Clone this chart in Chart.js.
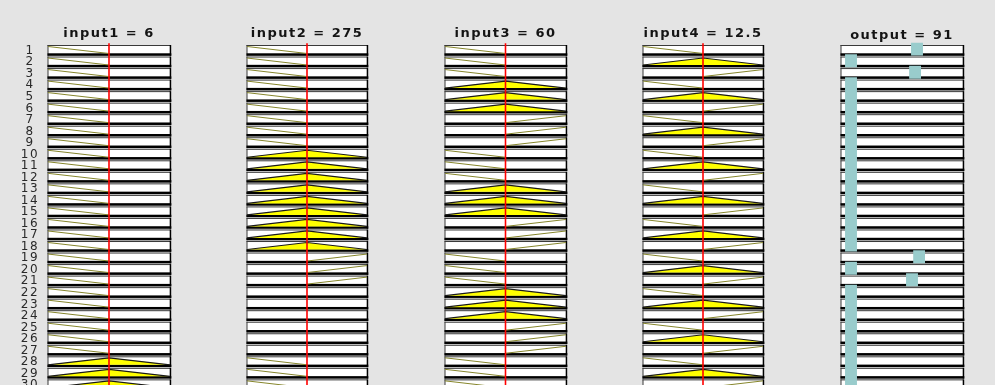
<!DOCTYPE html>
<html>
<head>
<meta charset="utf-8">
<script src="https://cdn.jsdelivr.net/npm/chart.js@4.4.1/dist/chart.umd.min.js"></script>
<style>
  html, body { margin: 0; padding: 0; width: 995px; height: 385px; overflow: hidden; background: #e4e4e4; }
  canvas { position: absolute; top: 0; }
</style>
</head>
<body>
<canvas id="c0" width="173" height="385" style="left:0px"></canvas>
<canvas id="c1" width="125" height="385" style="left:245px"></canvas>
<canvas id="c2" width="126" height="385" style="left:443px"></canvas>
<canvas id="c3" width="125" height="385" style="left:641px"></canvas>
<canvas id="c4" width="127" height="385" style="left:839px"></canvas>
<script>
// ---------------- data ----------------
const ruleNumbers = [1,2,3,4,5,6,7,8,9,10,11,12,13,14,15,16,17,18,19,20,21,22,23,24,25,26,27,28,29,30];

const inputNames  = ['input1', 'input2', 'input3', 'input4'];
const inputValues = [6, 275, 60, 12.5];
const inputRanges = [[0, 12], [50, 500], [0, 120], [0, 25]];

// L = low (falling), M = mid (triangle), H = high (rising), '' = not used
const input1Terms = ['L','L','L','L','L','L','L','L','L','L','L','L','L','L','L','L','L','L','L','L','L','L','L','L','L','L','L','M','M','M'];
const input2Terms = ['L','L','L','L','L','L','L','L','L','M','M','M','M','M','M','M','M','M','H','H','H','','','','','','','L','L','L'];
const input3Terms = ['L','L','L','M','M','M','H','H','H','L','L','L','M','M','M','H','H','H','L','L','L','M','M','M','H','H','H','L','L','L'];
const input4Terms = ['L','M','H','L','M','H','L','M','H','L','M','H','L','M','H','L','M','H','L','M','H','L','M','H','L','M','H','L','M','H'];
const inputTerms  = [input1Terms, input2Terms, input3Terms, input4Terms];

const outputName   = 'output';
const outputValue  = 91;
const outputRange  = [0, 100];
const outputCenters = [62.3, 8.2, 60.7, 8.2, 8.2, 8.2, 8.2, 8.2, 8.2, 8.2, 8.2, 8.2, 8.2, 8.2, 8.2, 8.2, 8.2, 8.2, 64.0, 8.2, 58.2, 8.2, 8.2, 8.2, 8.2, 8.2, 8.2, 8.2, 8.2, 8.2];

// ---------------- layout / style constants ----------------
const ROW_PX = 11.53, FIRST_ROW_TOP = 45, CANVAS_H = 385;
const Y_MIN = -0.3;
const Y_MAX = (CANVAS_H - FIRST_ROW_TOP) / ROW_PX;
const AREA_TOP = FIRST_ROW_TOP + Y_MIN * ROW_PX;
const MF_BASE = 0.737, MF_HEIGHT = 0.607;
const BAR_HALF = 4.9, BAR_TOP = -0.2, BAR_BOTTOM = 0.92;
const LETTER_SPACING = '1.5px';
const FONT_FAMILY = "'DejaVu Sans', sans-serif";
const TITLE_SIZE = 13;

const spacingPlugin = {
  id: 'spacing',
  beforeUpdate(chart) { chart.ctx.letterSpacing = LETTER_SPACING; },
  beforeLayout(chart) { chart.ctx.letterSpacing = LETTER_SPACING; },
  beforeDraw(chart) { chart.ctx.letterSpacing = LETTER_SPACING; }
};

const boxPlugin = {
  id: 'ruleBoxes',
  beforeDatasetsDraw(chart) {
    const ctx = chart.ctx, xs = chart.scales.x, ys = chart.scales.y;
    const L = xs.getPixelForValue(xs.min), R = xs.getPixelForValue(xs.max);
    ctx.save();
    for (const r of ruleNumbers) {
      const T = ys.getPixelForValue(r - 1);
      ctx.fillStyle = '#ffffff';
      ctx.fillRect(L, T, R - L, 8.6);
      ctx.fillStyle = '#3a3a3a';
      ctx.fillRect(L - 0.5, T, R - L + 1, 1);
      ctx.fillRect(L - 0.5, T, 1, 10.8);
      ctx.fillStyle = '#000000';
      ctx.fillRect(L - 0.5, T + 8.3, R - L + 1.8, 2.5);
      ctx.fillRect(R - 0.3, T, 1.5, 10.8);
    }
    ctx.restore();
  }
};

function mfDataset(term, row, range) {
  const [a, b] = range, m = (a + b) / 2;
  const base = row - 1 + MF_BASE, top = base - MF_HEIGHT;
  if (term === 'L') return { data: [{x: a, y: top}, {x: m, y: base}], borderColor: '#86862c', borderWidth: 1, fill: false };
  if (term === 'H') return { data: [{x: m, y: base}, {x: b, y: top}], borderColor: '#86862c', borderWidth: 1, fill: false };
  if (term === 'M') return { data: [{x: a, y: base}, {x: m, y: top}, {x: b, y: base}], borderColor: '#1a1a1a', borderWidth: 1.2, backgroundColor: '#ffff00', fill: { value: base } };
  return null;
}

function baseOptions(range, titleText, titleLH, titlePadTop, titlePadBottom, padLeft, showRows) {
  return {
    responsive: false, animation: false, devicePixelRatio: 1, events: [],
    layout: { padding: { left: padLeft, right: 3, top: 0, bottom: 0 } },
    elements: { point: { radius: 0 }, line: { tension: 0 } },
    plugins: {
      legend: { display: false }, tooltip: { enabled: false },
      title: {
        display: true, text: titleText, fullSize: false, color: '#141414',
        font: { family: FONT_FAMILY, size: TITLE_SIZE, weight: 'bold', lineHeight: titleLH },
        padding: { top: titlePadTop, bottom: titlePadBottom }
      }
    },
    scales: {
      x: { type: 'linear', display: false, min: range[0], max: range[1] },
      y: {
        type: 'linear', display: showRows, position: 'left', reverse: true, min: Y_MIN, max: Y_MAX,
        grid: { display: false, drawTicks: false }, border: { display: false },
        ticks: {
          autoSkip: false, crossAlign: 'center', padding: 8.9, color: '#2a2a2a',
          font: { family: FONT_FAMILY, size: 12, lineHeight: 1 },
          callback: (v, i) => String(ruleNumbers[i])
        },
        afterBuildTicks: (s) => { s.ticks = ruleNumbers.map(n => ({ value: n - 0.5 })); },
        afterFit: (s) => { if (showRows) { s.width = 48; } s.paddingTop = 0; s.paddingBottom = 0; }
      }
    }
  };
}

// input charts
for (let k = 0; k < 4; k++) {
  const range = inputRanges[k];
  const datasets = [];
  datasets.push({
    data: [{x: inputValues[k], y: -0.15}, {x: inputValues[k], y: Y_MAX}],
    borderColor: '#ff0000', borderWidth: 1.6, fill: false, order: -1
  });
  ruleNumbers.forEach((r, i) => {
    const ds = mfDataset(inputTerms[k][i], r, range);
    if (ds) datasets.push(ds);
  });
  const lh = 1.0;
  const titlePadTop = 34 - TITLE_SIZE * lh / 2;
  const titlePadBottom = AREA_TOP - titlePadTop - TITLE_SIZE * lh;
  new Chart(document.getElementById('c' + k), {
    type: 'line',
    data: { datasets },
    options: baseOptions(range, inputNames[k] + ' = ' + inputValues[k], lh, titlePadTop, titlePadBottom, k === 0 ? 0 : 2, k === 0),
    plugins: [spacingPlugin, boxPlugin]
  });
}

// output chart
{
  const datasets = ruleNumbers.map((r, i) => ({
    data: [{x: outputCenters[i] - BAR_HALF, y: r - 1 + BAR_TOP}, {x: outputCenters[i] + BAR_HALF, y: r - 1 + BAR_TOP}],
    borderWidth: 0, borderColor: 'rgba(0,0,0,0)', backgroundColor: '#99cccc',
    fill: { value: r - 1 + BAR_BOTTOM }
  }));
  const lh = 0.8;
  const titlePadTop = 36 - TITLE_SIZE * lh / 2;
  const titlePadBottom = Math.max(0, AREA_TOP - titlePadTop - TITLE_SIZE * lh);
  new Chart(document.getElementById('c4'), {
    type: 'line',
    data: { datasets },
    options: baseOptions(outputRange, outputName + ' = ' + outputValue, lh, titlePadTop, titlePadBottom, 2, false),
    plugins: [spacingPlugin, boxPlugin]
  });
}
</script>
</body>
</html>
